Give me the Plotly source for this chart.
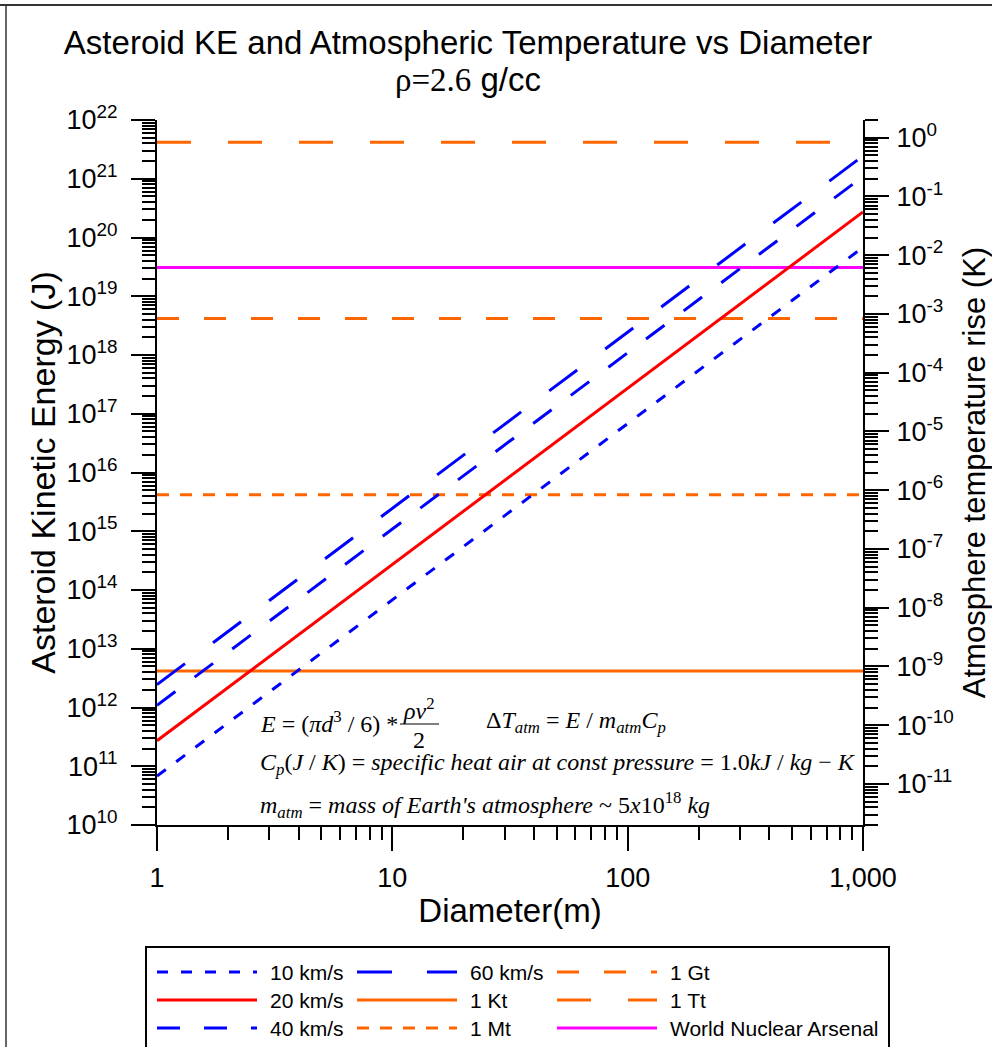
import math
import plotly.graph_objects as go

# ---------------- data ----------------
diameter_m = [1, 1000]
ke_10kms = [6.8e10, 6.8e19]
ke_20kms = [2.72e11, 2.72e20]
ke_40kms = [1.09e12, 1.09e21]
ke_60kms = [2.45e12, 2.45e21]

energy_1kt = 4.184e12
energy_1mt = 4.184e15
energy_1gt = 4.184e18
energy_1tt = 4.184e21
energy_arsenal = 3.1e19

m_atm_kg = 5e18          # mass of Earth's atmosphere
cp_j_per_kgk = 1000.0    # specific heat of air

x_tickvals = [1, 10, 100, 1000]
x_ticktext = ["1", "10", "100", "1,000"]
ke_exponents = list(range(10, 23))
dt_exponents = list(range(-11, 1))

# ---------------- geometry helpers ----------------
W, H = 992, 1047
ML, MR, MT, MB = 157, 129, 120, 222
PW, PH = W - ML - MR, H - MT - MB


def px(x):
    return (x - ML) / PW


def py(y):
    return (H - MB - y) / PH


BLUE, RED, ORANGE, MAGENTA = "#0000FF", "#FF0000", "#FF6600", "#FF00FF"
SANS = "Arial, Liberation Sans, sans-serif"
SERIF = "Liberation Serif, Times New Roman, serif"

series = [
    ("10 km/s", ke_10kms, BLUE, "11px,13px"),
    ("20 km/s", ke_20kms, RED, "solid"),
    ("40 km/s", ke_40kms, BLUE, "23px,24px"),
    ("60 km/s", ke_60kms, BLUE, "35px,35px"),
]
levels = [
    ("1 Kt", energy_1kt, ORANGE, "solid"),
    ("1 Mt", energy_1mt, ORANGE, "12px,11px"),
    ("1 Gt", energy_1gt, ORANGE, "22px,25px"),
    ("1 Tt", energy_1tt, ORANGE, "34px,37px"),
    ("World Nuclear Arsenal", energy_arsenal, MAGENTA, "solid"),
]

fig = go.Figure()
for name, val, color, dash in levels:
    fig.add_trace(go.Scatter(x=diameter_m, y=[val] * len(diameter_m), mode="lines",
                             name=name, line=dict(color=color, width=3, dash=dash)))
for name, ys, color, dash in series:
    fig.add_trace(go.Scatter(x=diameter_m, y=ys, mode="lines", name=name,
                             line=dict(color=color, width=3, dash=dash)))
# anchor trace for the right-hand temperature axis
fig.add_trace(go.Scatter(x=[1], y=[None], yaxis="y2", mode="lines",
                         showlegend=False, hoverinfo="skip"))

heat_cap = m_atm_kg * cp_j_per_kgk
ke_range = [10, 22]
dt_range = [r - math.log10(heat_cap) for r in ke_range]

axis_font = dict(family=SANS, size=27, color="black")
common = dict(type="log", showline=True, linecolor="black", linewidth=2,
              ticks="outside", ticklen=24, tickwidth=2, tickcolor="black",
              showgrid=False, zeroline=False, tickfont=axis_font,
              minor=dict(ticks="outside", ticklen=13, tickwidth=2,
                         tickcolor="black", dtick="D1", showgrid=False))

fig.update_layout(
    width=W, height=H,
    margin=dict(l=ML, r=MR, t=MT, b=MB, autoexpand=False),
    paper_bgcolor="white", plot_bgcolor="white",
    showlegend=False,
    title=dict(text="Asteroid KE and Atmospheric Temperature vs Diameter",
               x=468 / W, xref="container", xanchor="center",
               y=1 - 42 / H, yref="container", yanchor="middle",
               font=dict(family=SANS, size=33, color="black")),
    xaxis=dict(common, range=[0, 3], tickmode="array", tickvals=x_tickvals,
               ticktext=x_ticktext, automargin=False, ticklabelstandoff=4,
               title=dict(text="Diameter(m)", font=dict(family=SANS, size=33, color="black"),
                          standoff=6)),
    yaxis=dict(common, range=ke_range, tickmode="array",
               tickvals=[10.0 ** e for e in ke_exponents],
               ticktext=["10<sup>%d</sup>" % e for e in ke_exponents],
               automargin=False, ticklabelstandoff=8,
               title=dict(text="Asteroid Kinetic Energy (J)",
                          font=dict(family=SANS, size=34, color="black"), standoff=1)),
    yaxis2=dict(common, range=dt_range, overlaying="y", side="right",
                tickmode="array",
                tickvals=[10.0 ** e for e in dt_exponents],
                ticktext=["10<sup>%d</sup>" % e for e in dt_exponents],
                automargin=False, ticklabelstandoff=2,
                title=dict(text="Atmosphere temperature rise (K)",
                           font=dict(family=SANS, size=31, color="black"), standoff=11)),
)

eq_font = dict(family=SERIF, size=24, color="black")
ann = []
ann.append(dict(text="<span style='font-family:Liberation Serif'>ρ=2.6</span> g/cc",
                x=px(468), y=py(80), xref="paper", yref="paper",
                showarrow=False, xanchor="center", yanchor="middle",
                font=dict(family=SANS, size=33, color="black")))

eq = []
eq.append(dict(text="<i>E</i> = (<i>πd</i><sup>3</sup> / 6) *", x=px(258), y=py(722)))
eq.append(dict(text="<i>ρv</i><sup>2</sup>", x=px(419), y=py(709), xanchor="center"))
eq.append(dict(text="2", x=px(419), y=py(740), xanchor="center"))
eq.append(dict(text="Δ<i>T</i><sub><i>atm</i></sub> = <i>E</i> / "
               "<i>m</i><sub><i>atm</i></sub><i>C</i><sub><i>p</i></sub>",
               x=px(484), y=py(722)))
eq.append(dict(text="<i>C</i><sub><i>p</i></sub>(<i>J</i> / <i>K</i>) = <i>specific heat air at const pressure</i> = 1.0<i>kJ</i> / <i>kg</i> − <i>K</i>",
               x=px(258), y=py(764)))
eq.append(dict(text="<i>m</i><sub><i>atm</i></sub> = <i>mass of Earth's atmosphere</i> ~ 5<i>x</i>10<sup>18</sup> <i>kg</i>",
               x=px(258), y=py(805)))
for a in eq:
    a.setdefault("xanchor", "left")
    a.update(xref="paper", yref="paper", showarrow=False, yanchor="middle", font=eq_font)
ann.extend(eq)

shapes = [
    dict(type="line", xref="paper", yref="paper", x0=px(400), x1=px(439),
         y0=py(724), y1=py(724), line=dict(color="black", width=1.2)),
    # page border
    dict(type="line", xref="paper", yref="paper", x0=px(0), x1=px(W),
         y0=py(5), y1=py(5), line=dict(color="#333333", width=2)),
    dict(type="line", xref="paper", yref="paper", x0=px(6), x1=px(6),
         y0=py(5), y1=py(H + 5), line=dict(color="#333333", width=1.5)),
    # legend box
    dict(type="rect", xref="paper", yref="paper", x0=px(146), x1=px(889),
         y0=py(947), y1=py(H + 20), line=dict(color="black", width=2)),
]

legend_cols = [157, 357, 557]
legend_rows = [972, 1000, 1028]
legend_items = [series[0], series[1], series[2],
                series[3], levels[0], levels[1],
                levels[2], levels[3], levels[4]]
for i, (name, _v, color, dash) in enumerate(legend_items):
    cx = legend_cols[i // 3]
    ry = legend_rows[i % 3]
    shapes.append(dict(type="line", xref="paper", yref="paper",
                       x0=px(cx), x1=px(cx + 100), y0=py(ry), y1=py(ry),
                       line=dict(color=color, width=3, dash=dash)))
    ann.append(dict(text=name, x=px(cx + 111), y=py(ry), xref="paper", yref="paper",
                    showarrow=False, xanchor="left", yanchor="middle",
                    font=dict(family=SANS, size=21, color="black")))

fig.update_layout(annotations=ann, shapes=shapes)
fig.write_html("out.html", config={"displayModeBar": False},
               post_script="document.body.style.margin='0';document.body.style.overflow='hidden';")
